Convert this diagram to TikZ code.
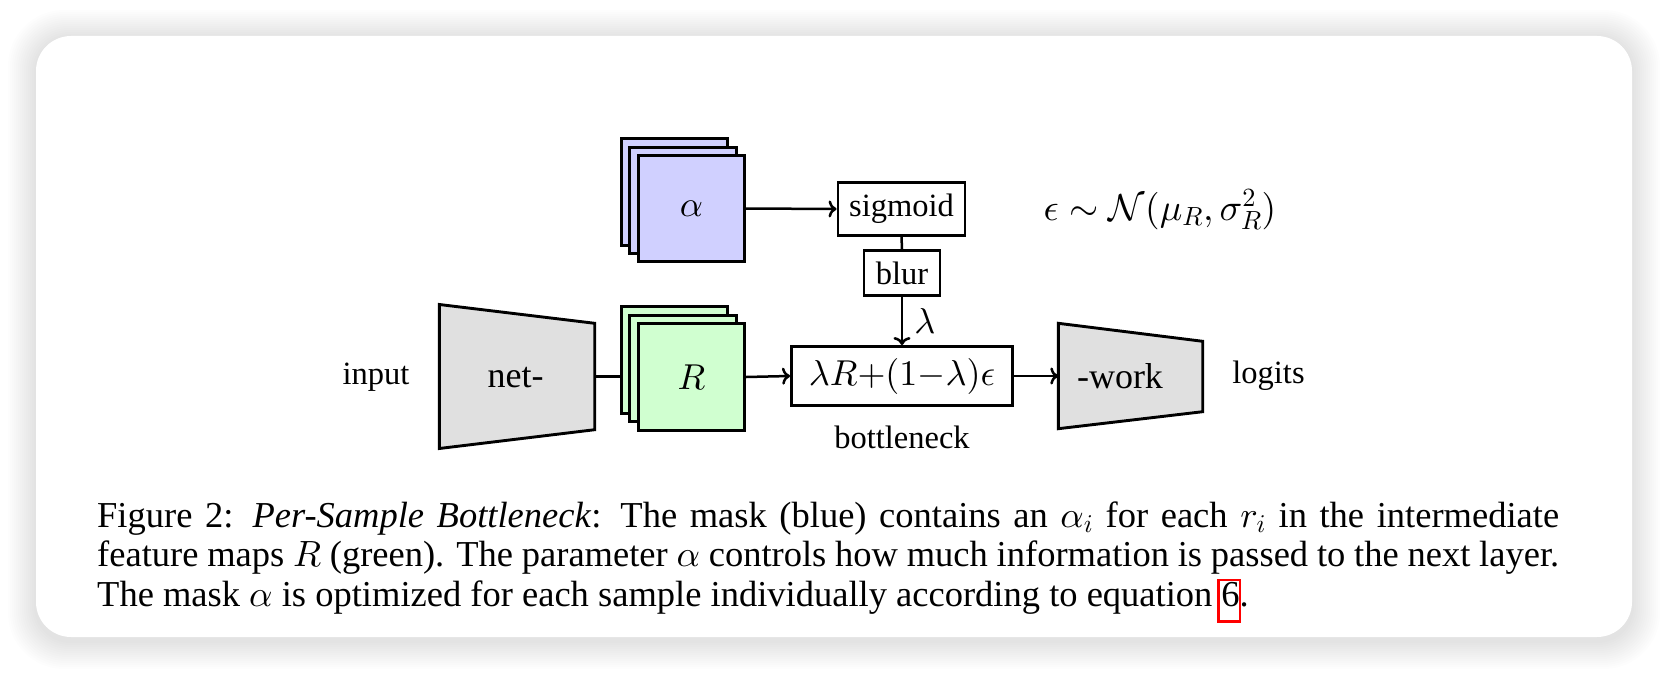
\RequirePackage{fix-cm}
\documentclass[tikz,border=0pt]{standalone}
\usepackage{fontspec}
\setmainfont{Liberation Serif}
\DeclareFontShape{OML}{cmm}{m}{it}{<->cmmi10}{}
\DeclareFontShape{OMS}{cmsy}{m}{n}{<->cmsy10}{}
\DeclareFontShape{OT1}{cmr}{m}{n}{<->cmr10}{}
\usetikzlibrary{arrows.meta}
\definecolor{maskblue}{RGB}{208,208,255}
\definecolor{featgreen}{RGB}{208,255,208}
\definecolor{netgray}{RGB}{224,224,224}
\definecolor{linkred}{RGB}{255,0,0}
\newcommand\reflink[1]{\leavevmode\makebox[0pt][l]{\kern-4pt\raisebox{-14pt}{\color{linkred}\setlength\fboxrule{2.5pt}\setlength\fboxsep{0pt}\framebox{\rule{0pt}{39pt}\rule{19pt}{0pt}}}}#1}
\begin{document}
\begin{tikzpicture}[x=1pt,y=-1pt,
  conn/.style={line width=2.5pt},
  arr/.style={conn,-{To[length=8pt,width=17pt]}},
  sq/.style={draw, line width=2.9pt, minimum width=106.4pt, minimum height=106.4pt, inner sep=0pt, font=\fontsize{36}{40}\selectfont},
  bluesq/.style={sq, fill=maskblue},
  greensq/.style={sq, fill=featgreen},
  opbox/.style={draw, line width=2.9pt, inner sep=0pt, fill=white},
  lbl/.style={font=\fontsize{32.5}{38}\selectfont, inner sep=0pt},
  big/.style={font=\fontsize{36}{40}\selectfont, inner sep=0pt},
  trap/.style={draw, line width=2.9pt, fill=netgray, line join=miter}]
\useasboundingbox (0,0) rectangle (1668,674);
\fill[white] (0,0) rectangle (1668,674);
% card shadow
\foreach \k in {1,...,14}{
  \pgfmathsetmacro\rr{35+\k*1.5}
  \fill[black, opacity=0.009, rounded corners=\rr pt] (36-\k*2,36-\k*2+2) rectangle (1632+\k*2,637+\k*2+4);
}
\fill[white, rounded corners=35pt] (36,36) rectangle (1632,637);

% mask stack
\node[bluesq] (ab) at (674.5,192) {};
\node[bluesq] (am) at (683,200.5) {};
\node[bluesq] (af) at (691.5,208.5) {$\alpha$};
% feature stack
\node[greensq] (rb) at (674.5,360) {};
\node[greensq] (rm) at (683,368.5) {};
\node[greensq] (rf) at (691.5,377) {$R$};

% operation boxes
\node[opbox, lbl, minimum width=127pt, minimum height=53pt] (sig) at (901.5,209) {sigmoid};
\node[opbox, lbl, minimum width=76pt, minimum height=45pt] (blur) at (902,273) {blur};
\node[opbox, big, minimum width=221pt, minimum height=59pt] (bn) at (902,376) {$\lambda R{+}(1{-}\lambda)\epsilon$};

% trapezoids
\draw[trap] (439.3,304.5) -- (594.7,323.3) -- (594.7,429.7) -- (439.3,448.5) -- cycle;
\coordinate (netE) at (594.7,376.5);
\node[big, anchor=base] (net) at (515.5,387) {net-};
\draw[trap] (1058.3,323.3) -- (1202.7,341.3) -- (1202.7,411.7) -- (1058.3,428.7) -- cycle;
\coordinate (workW) at (1058.3,376);
\node[big, anchor=base] (work) at (1120,388) {-work};

% labels
\node[lbl, anchor=base] (inp) at (376,384) {input};
\node[lbl, anchor=base] (logits) at (1268.5,383) {logits};
\node[lbl, anchor=base] (bnlab) at (902,448) {bottleneck};
\node[font=\fontsize{37.5}{40}\selectfont, inner sep=0pt, anchor=base] (eps) at (1160,220) {$\epsilon\sim\mathcal{N}(\mu_R,\sigma_R^2)$};

% connectors
\draw[arr] (af.east) -- (sig.west);
\draw[conn] (sig.south) -- (blur.north);
\draw[arr] (blur.south) -- node[big, right=11pt] (lam) {$\lambda$} (bn.north);
\draw[conn] (netE) -- (netE -| rb.west);
\draw[arr] (rf.east) -- (bn.west);
\draw[arr] (bn.east) -- (workW);

% caption
\node[anchor=base west, text width=1462pt, align=justify, inner sep=0pt, font=\fontsize{36.5}{39.5}\selectfont] (cap) at (97,527)
{Figure 2: \textit{Per-Sample Bottleneck}: The mask (blue) contains an $\alpha_i$ for each $r_i$ in the intermediate\linebreak
feature maps $R$ (green). The parameter $\alpha$ controls how much information is passed to the next layer.\linebreak
The mask $\alpha$ is optimized for each sample individually according to equation~\reflink{6}.};
\end{tikzpicture}
\end{document}
